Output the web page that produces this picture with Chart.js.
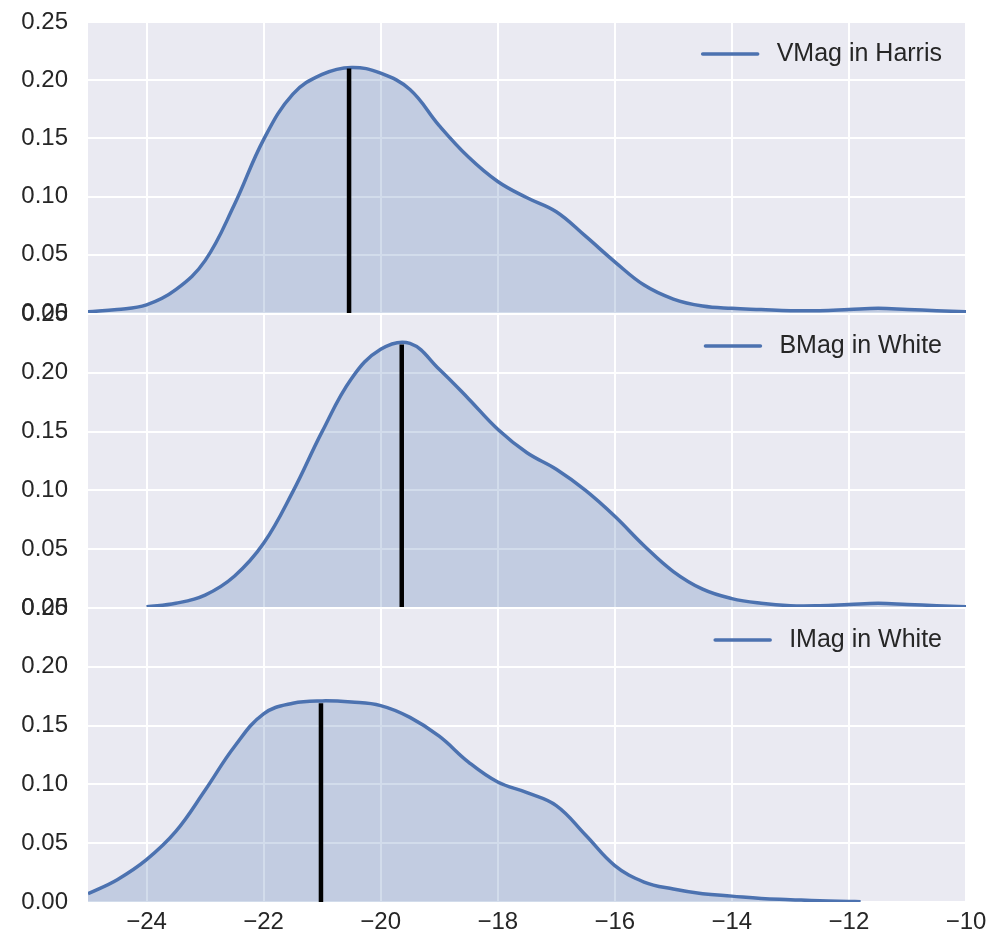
<!DOCTYPE html>
<html>
<head>
<meta charset="utf-8">
<script src="https://cdn.jsdelivr.net/npm/chart.js@4/dist/chart.umd.min.js"></script>
<style>
  body { margin: 0; background: #fff; }
  .panel { position: absolute; left: 0; top: 0; width: 1004px; height: 945px; }
</style>
</head>
<body>
<div class="panel"><canvas id="vmag"></canvas></div>
<div class="panel"><canvas id="bmag"></canvas></div>
<div class="panel"><canvas id="imag"></canvas></div>
<script>
'use strict';

// tick labels
const xTicks = [-24, -22, -20, -18, -16, -14, -12, -10];
const yTicks = [0, 0.05, 0.10, 0.15, 0.20, 0.25];

// VMag in Harris
const vmagX = [-25, -24.5, -24, -23.5, -23, -22.5, -22, -21.5, -21, -20.5, -20, -19.5, -19, -18.5, -18,
  -17.5, -17, -16.5, -16, -15.5, -15, -14.5, -14, -13.5, -13, -12.5, -12, -11.5, -11, -10.5, -10];
const vmagDensity = [0.001, 0.003, 0.007, 0.020, 0.045, 0.093, 0.149, 0.188, 0.205, 0.211, 0.206, 0.192, 0.161, 0.134, 0.113,
  0.099, 0.087, 0.066, 0.044, 0.024, 0.012, 0.006, 0.004, 0.003, 0.002, 0.002, 0.003, 0.004, 0.003, 0.002, 0.001];

// BMag in White
const bmagX = [-24, -23.5, -23, -22.5, -22, -21.5, -21, -20.5, -20, -19.5, -19, -18.5, -18,
  -17.5, -17, -16.5, -16, -15.5, -15, -14.5, -14, -13.5, -13, -12.5, -12, -11.5, -11, -10.5, -10];
const bmagDensity = [0.001, 0.004, 0.011, 0.027, 0.055, 0.099, 0.150, 0.195, 0.220, 0.225, 0.203, 0.178, 0.152,
  0.132, 0.118, 0.100, 0.078, 0.053, 0.031, 0.016, 0.008, 0.004, 0.002, 0.002, 0.003, 0.004, 0.003, 0.002, 0.001];

// IMag in White
const imagX = [-25, -24.5, -24, -23.5, -23, -22.5, -22, -21.5, -21, -20.5, -20, -19.5, -19, -18.5, -18,
  -17.5, -17, -16.5, -16, -15.5, -15, -14.5, -14, -13.5, -13, -12.5, -12, -11.8];
const imagDensity = [0.007, 0.019, 0.036, 0.060, 0.095, 0.132, 0.160, 0.169, 0.171, 0.170, 0.167, 0.157, 0.141, 0.119, 0.102,
  0.093, 0.082, 0.057, 0.031, 0.017, 0.011, 0.007, 0.005, 0.003, 0.002, 0.001, 0.0005, 0.0003];

// vertical marker lines (position, height)
const markerX = [-20.54, -19.64, -21.02];
const markerTop = [0.210, 0.224, 0.169];

const FONT = '"Liberation Sans", Arial, sans-serif';
const TEXT = '#262626';
const BLUE = '#4C72B0';

const panelStyle = {
  id: 'panelStyle',
  beforeDraw(chart) {
    const a = chart.chartArea;
    const ctx = chart.ctx;
    ctx.save();
    ctx.fillStyle = '#EAEAF2';
    ctx.fillRect(a.left, a.top, a.right - a.left, a.bottom - a.top);
    ctx.restore();
  },
  afterDraw(chart) {
    const a = chart.chartArea;
    const ctx = chart.ctx;
    const ds = chart.data.datasets[0];
    ctx.save();
    ctx.font = '25px ' + FONT;
    ctx.textBaseline = 'middle';
    const w = ctx.measureText(ds.label).width;
    const tx = a.right - 24 - w;
    const ty = a.top + 32;
    ctx.strokeStyle = ds.borderColor;
    ctx.lineWidth = 3.5;
    ctx.lineCap = 'round';
    ctx.beginPath();
    ctx.moveTo(tx - 74, ty);
    ctx.lineTo(tx - 19, ty);
    ctx.stroke();
    ctx.fillStyle = TEXT;
    ctx.fillText(ds.label, tx, ty);
    ctx.restore();
  }
};

function toPoints(xs, ys) {
  return xs.map((x, i) => ({ x: x, y: ys[i] }));
}

function makePanel(id, xs, ys, label, idx, padTop, padBottom, showX) {
  new Chart(document.getElementById(id), {
    type: 'line',
    data: {
      datasets: [
        {
          label: label,
          data: toPoints(xs, ys),
          borderColor: BLUE,
          borderWidth: 3.5,
          backgroundColor: 'rgba(76, 114, 176, 0.25)',
          fill: 'origin',
          pointRadius: 0,
          tension: 0.4,
          order: 1,
        },
        {
          label: 'marker',
          data: [{ x: markerX[idx], y: 0 }, { x: markerX[idx], y: markerTop[idx] }],
          borderColor: '#000',
          borderWidth: 4.5,
          pointRadius: 0,
          fill: false,
          order: 0,
        },
      ],
    },
    options: {
      responsive: true,
      maintainAspectRatio: false,
      animation: false,
      events: [],
      layout: { padding: { top: padTop, bottom: padBottom, left: 0, right: 38 } },
      plugins: { legend: { display: false }, tooltip: { enabled: false } },
      scales: {
        x: {
          type: 'linear',
          min: -25,
          max: -10,
          afterBuildTicks: s => { s.ticks = xTicks.map(v => ({ value: v })); },
          afterFit: s => { s.height = showX ? 43 : 0; },
          grid: { color: '#fff', lineWidth: 2, drawTicks: false },
          border: { display: false },
          ticks: {
            display: showX,
            padding: 6,
            color: TEXT,
            font: { family: FONT, size: 24 },
            callback: v => (v < 0 ? '\u2212' + Math.abs(v) : String(v)),
          },
        },
        y: {
          min: 0,
          max: 0.25,
          afterBuildTicks: s => { s.ticks = yTicks.map(v => ({ value: v })); },
          afterFit: s => { s.width = 88; s.paddingTop = 0; s.paddingBottom = 0; },
          grid: { color: '#fff', lineWidth: 2, drawTicks: false },
          border: { display: false },
          ticks: {
            padding: 20,
            color: TEXT,
            font: { family: FONT, size: 24 },
            callback: v => v.toFixed(2),
          },
        },
      },
    },
    plugins: [panelStyle],
  });
}

makePanel('vmag', vmagX, vmagDensity, 'VMag in Harris', 0, 22, 632, false);
makePanel('bmag', bmagX, bmagDensity, 'BMag in White', 1, 314, 337, false);
makePanel('imag', imagX, imagDensity, 'IMag in White', 2, 608, 0, true);
</script>
</body>
</html>
